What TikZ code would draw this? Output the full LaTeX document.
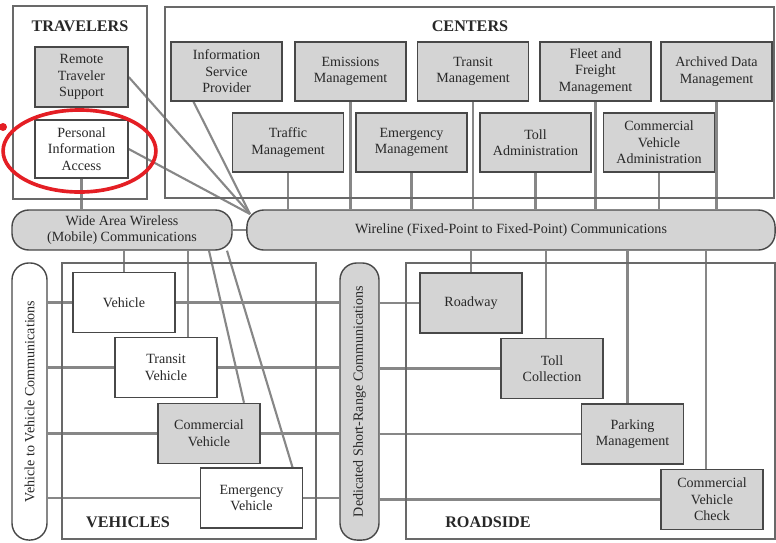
\documentclass[tikz,border=0pt]{standalone}
\usepackage{fontspec}
\setmainfont{Liberation Serif}
\usetikzlibrary{calc,backgrounds}
\definecolor{boxgray}{RGB}{212,212,212}
\definecolor{edgegray}{RGB}{72,72,72}
\definecolor{linegray}{RGB}{135,135,135}
\definecolor{groupgray}{RGB}{105,105,105}
\definecolor{textgray}{RGB}{40,40,40}
\definecolor{markred}{RGB}{228,30,36}

\begin{document}
\begin{tikzpicture}[x=0.025cm,y=-0.025cm,font=\fontsize{10}{11.8}\selectfont,
    box/.style={draw=edgegray,line width=1pt,fill=boxgray,align=center,inner sep=1pt,text=textgray},
    white box/.style={box,fill=white},
    center box/.style={box,minimum width=2.775cm,minimum height=1.475cm},
    unit box/.style={minimum width=2.55cm,minimum height=1.5cm},
    pill/.style={draw=edgegray,line width=1pt,fill=boxgray,rounded corners=12pt,align=center,text=textgray,inner sep=1pt},
    link/.style={draw=linegray,line width=1.5pt},
    group/.style={draw=groupgray,line width=0.9pt},
    title/.style={font=\fontsize{11.5}{13}\selectfont\bfseries,text=textgray}]
    \useasboundingbox (0,0) rectangle (776,542);

    % group frames
    \draw[group] (13,6) rectangle (147,199);
    \draw[group] (165,7) rectangle (774,198);
    \draw[group] (62,263) rectangle (316,539);
    \draw[group] (406,263) rectangle (775,539);
    \node[title] (ttrav) at (80,26) {TRAVELERS};
    \node[title] (tcent) at (470,26) {CENTERS};
    \node[title] (tveh) at (128,522) {VEHICLES};
    \node[title] (troad) at (488,522) {ROADSIDE};

    % travelers
    \node[box, minimum width=2.325cm, minimum height=1.5cm] (rts) at (81.5,77) {Remote\\Traveler\\Support};
    \node[white box, minimum width=2.325cm, minimum height=1.45cm] (pia) at (81.5,149) {Personal\\Information\\Access};

    % centers
    \node[center box] (isp) at (226.5,71.5) {Information\\Service\\Provider};
    \node[center box] (emi) at (350.5,71.5) {Emissions\\Management};
    \node[center box] (tsm) at (473,71.5) {Transit\\Management};
    \node[center box] (ffm) at (595.5,71.5) {Fleet and\\Freight\\Management};
    \node[center box] (adm) at (716.5,71.5) {Archived Data\\Management};
    \node[center box] (tfm) at (288,142.5) {Traffic\\Management};
    \node[center box] (emm) at (411.5,142.5) {Emergency\\Management};
    \node[center box] (tla) at (535.5,142.5) {Toll\\Administration};
    \node[center box] (cva) at (659,142.5) {Commercial\\Vehicle\\Administration};

    % communications
    \node[pill, minimum width=5.5cm, minimum height=1cm] (waw) at (122,230) {Wide Area Wireless\\(Mobile) Communications};
    \node[pill, minimum width=13.2cm, minimum height=1cm] (wl) at (511,230) {Wireline (Fixed-Point to Fixed-Point) Communications};
    \node[pill, fill=white, rotate=90, minimum width=6.925cm, minimum height=0.875cm] (v2v) at (29.5,401.5) {Vehicle to Vehicle Communications};
    \node[pill, rotate=90, minimum width=6.925cm, minimum height=0.975cm] (dsrc) at (359.5,401.5) {Dedicated Short-Range Communications};

    % vehicles
    \node[white box, unit box] (veh) at (124,302.5) {Vehicle};
    \node[white box, unit box] (tsv) at (166,367.5) {Transit\\Vehicle};
    \node[box, unit box] (cmv) at (209,433.5) {Commercial\\Vehicle};
    \node[white box, unit box] (emv) at (251.5,498) {Emergency\\Vehicle};

    % roadside
    \node[box, unit box] (rdw) at (471,303) {Roadway};
    \node[box, unit box] (tlc) at (552,368.5) {Toll\\Collection};
    \node[box, unit box] (pkm) at (632.5,434) {Parking\\Management};
    \node[box, unit box] (cvc) at (712,499.5) {Commercial\\Vehicle\\Check};

    \coordinate (hub) at (250,214);
    \coordinate (ispout) at ($(isp.south)+(-33,0)$);
    \coordinate (tsvin) at ($(tsv.north)+(22,0)$);
    \coordinate (cmvin) at ($(cmv.north)+(35,0)$);
    \coordinate (emvin) at ($(emv.north)+(41,0)$);
    \coordinate (emvout) at ($(waw.south)+(105,0)$);
    \coordinate (tlcin) at ($(tlc.north)+(-6,0)$);
    \coordinate (pkmin) at ($(pkm.north)+(-5,0)$);
    \coordinate (cvcin) at ($(cvc.north)+(-6,0)$);

    \begin{scope}[on background layer]
        \path [link] (rts.east) -- (hub);
        \path [link] (pia.east) -- (hub);
        \path [link] (ispout) -- (hub);
        \path [link] (pia.south) -- (pia.south |- waw.north);
        \path [link] (waw.east) -- (wl.west);
        \path [link] (tfm.south) -- (tfm.south |- wl.north);
        \path [link] (emi.south) -- (emi.south |- wl.north);
        \path [link] (emm.south) -- (emm.south |- wl.north);
        \path [link] (tsm.south) -- (tsm.south |- wl.north);
        \path [link] (tla.south) -- (tla.south |- wl.north);
        \path [link] (ffm.south) -- (ffm.south |- wl.north);
        \path [link] (cva.south) -- (cva.south |- wl.north);
        \path [link] (adm.south) -- (adm.south |- wl.north);
        \path [link] (veh.north) -- (veh.north |- waw.south);
        \path [link] (tsvin) -- (tsvin |- waw.south);
        \path [link] (cmv.north |- waw.south) -- (cmvin);
        \path [link] (emvout) -- (emvin);
        \path [link] (rdw.north) -- (rdw.north |- wl.south);
        \path [link] (tlcin) -- (tlcin |- wl.south);
        \path [link] (pkmin) -- (pkmin |- wl.south);
        \path [link] (cvcin) -- (cvcin |- wl.south);
        \path [link] (v2v.south |- veh.west) -- (dsrc.north |- veh.west);
        \path [link] (v2v.south |- tsv.west) -- (dsrc.north |- tsv.west);
        \path [link] (v2v.south |- cmv.west) -- (dsrc.north |- cmv.west);
        \path [link] (v2v.south |- emv.west) -- (dsrc.north |- emv.west);
        \path [link] (dsrc.south |- rdw.west) -- (rdw.west);
        \path [link] (dsrc.south |- tlc.west) -- (tlc.west);
        \path [link] (dsrc.south |- pkm.west) -- (pkm.west);
        \path [link] (dsrc.south |- cvc.west) -- (cvc.west);
    \end{scope}

    % highlight
    \draw[markred, line width=2.6pt] (79.5,151) ellipse [x radius=1.91cm, y radius=1.025cm];
    \fill[markred] (3,127) circle [radius=0.1cm];
\end{tikzpicture}
\end{document}
